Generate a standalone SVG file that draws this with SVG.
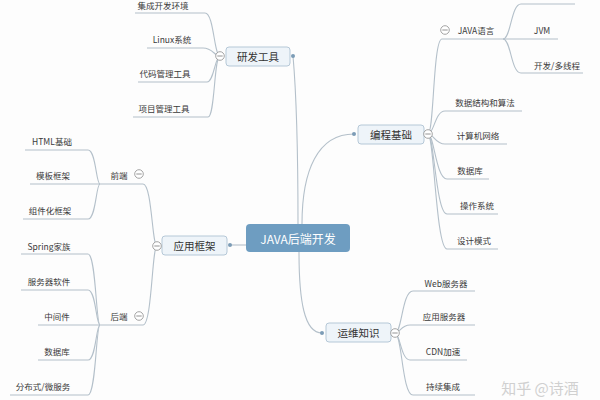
<svg xmlns="http://www.w3.org/2000/svg" width="600" height="400" viewBox="0 0 600 400">
<defs>
<style>
.bg{fill:#fdfdfd}
.ln{fill:none;stroke:#b4c0ca;stroke-width:1.1}
.t{font-family:"Noto Sans CJK SC","Liberation Sans",sans-serif;font-size:8.5px;fill:#3a3a3a;text-anchor:middle;dominant-baseline:central}
.t1{font-family:"Noto Sans CJK SC","Liberation Sans",sans-serif;font-size:10.5px;fill:#333;text-anchor:middle;dominant-baseline:central}
.box{fill:#eef4f9;stroke:#b5c8d7;stroke-width:1}
.dot{fill:#7c9cb6}
.col circle{fill:#fff;stroke:#9a9a9a;stroke-width:0.9}
.col line{stroke:#888;stroke-width:0.9}
</style>
</defs>
<rect class="bg" x="0" y="0" width="600" height="400"/>

<g id="connectors">
<path class="ln" d="M298 224 C298 150 296 90 293 56"/>
<path class="ln" d="M302 224 C302 170 318 134 354 134"/>
<path class="ln" d="M246 245 H230"/>
<path class="ln" d="M299 252 C299 300 304 333 322 333"/>
<path class="ln" d="M135 13 H205 C214 13 214 56 220 56"/>
<path class="ln" d="M147 48 H203 C213 48 214 56 220 56"/>
<path class="ln" d="M138 82 H207 C214 82 215 56 220 56"/>
<path class="ln" d="M133 117 H208 C215 117 214 56 220 56"/>
<path class="ln" d="M503 39 H442 C433 39 434 134 428 134"/>
<path class="ln" d="M522 111 H445 C435 111 434 134 428 134"/>
<path class="ln" d="M507 144 H445 C435 144 434 134 428 134"/>
<path class="ln" d="M489 179 H447 C436 179 434 134 428 134"/>
<path class="ln" d="M498 214 H447 C436 214 434 134 428 134"/>
<path class="ln" d="M498 249 H447 C436 249 434 134 428 134"/>
<path class="ln" d="M575 4 H521 C511 4 511 39 503 39"/>
<path class="ln" d="M558 39 H503"/>
<path class="ln" d="M583 73 H521 C511 73 511 39 503 39"/>
<path class="ln" d="M100 184 H143 C152 184 152 246 157 246"/>
<path class="ln" d="M100 325 H143 C152 325 152 246 157 246"/>
<path class="ln" d="M25 150 H88 C96 150 96 184 100 184"/>
<path class="ln" d="M30 184 H100"/>
<path class="ln" d="M23 219 H88 C96 219 96 184 100 184"/>
<path class="ln" d="M21 254 H88 C96 254 96 325 100 325"/>
<path class="ln" d="M21 290 H88 C96 290 96 325 100 325"/>
<path class="ln" d="M38 325 H100"/>
<path class="ln" d="M38 360 H88 C96 360 96 325 100 325"/>
<path class="ln" d="M10 395 H88 C96 395 96 325 100 325"/>
<path class="ln" d="M475 291 H413 C402 291 402 333 395 333"/>
<path class="ln" d="M475 325 H410 C401 325 400 333 395 333"/>
<path class="ln" d="M467 360 H410 C401 360 400 333 395 333"/>
<path class="ln" d="M475 395 H413 C402 395 402 333 395 333"/>
</g>

<g id="root">
<rect x="246" y="224" width="104" height="28" rx="4" fill="#6e9dc1"/>
<text x="298" y="238" class="t1" style="fill:#fff;font-size:12px">JAVA后端开发</text>
</g>

<g id="n-yanfa">
<rect class="box" x="226" y="47" width="64" height="19" rx="3"/>
<text class="t1" x="258" y="56.5">研发工具</text>
<circle class="dot" cx="293" cy="56" r="2"/>
<g class="col"><circle cx="220" cy="56" r="4.3"/><line x1="217.3" y1="56" x2="222.7" y2="56"/></g>
</g>
<g id="n-biancheng">
<rect class="box" x="358" y="125" width="66" height="19" rx="3"/>
<text class="t1" x="391" y="134.5">编程基础</text>
<circle class="dot" cx="354" cy="134" r="2"/>
<g class="col"><circle cx="428" cy="134" r="4.3"/><line x1="425.3" y1="134" x2="430.7" y2="134"/></g>
</g>
<g id="n-yingyong">
<rect class="box" x="162" y="236" width="65" height="19" rx="3"/>
<text class="t1" x="194.5" y="245.5">应用框架</text>
<circle class="dot" cx="230" cy="245" r="2"/>
<g class="col"><circle cx="157" cy="246" r="4.3"/><line x1="154.3" y1="246" x2="159.7" y2="246"/></g>
</g>
<g id="n-yunwei">
<rect class="box" x="326" y="323" width="65" height="19" rx="3"/>
<text class="t1" x="358.5" y="332.5">运维知识</text>
<circle class="dot" cx="322" cy="333" r="2"/>
<g class="col"><circle cx="395" cy="333" r="4.3"/><line x1="392.3" y1="333" x2="397.7" y2="333"/></g>
</g>

<g id="n-jicheng"><text class="t" x="163" y="5">集成开发环境</text></g>
<g id="n-linux"><text class="t" x="172" y="39">Linux系统</text></g>
<g id="n-daima"><text class="t" x="165" y="73">代码管理工具</text></g>
<g id="n-xiangmu"><text class="t" x="164" y="108">项目管理工具</text></g>

<g id="n-java"><text class="t" x="476" y="30">JAVA语言</text>
<g class="col"><circle cx="445" cy="30" r="4.3"/><line x1="442.3" y1="30" x2="447.7" y2="30"/></g></g>
<g id="n-jvm"><text class="t" x="542" y="30">JVM</text></g>
<g id="n-bingfa"><text class="t" x="557" y="65">开发/多线程</text></g>
<g id="n-shuju"><text class="t" x="485" y="102">数据结构和算法</text></g>
<g id="n-wangluo"><text class="t" x="478" y="135">计算机网络</text></g>
<g id="n-shujuku1"><text class="t" x="470" y="170">数据库</text></g>
<g id="n-caozuo"><text class="t" x="477" y="205">操作系统</text></g>
<g id="n-sheji"><text class="t" x="474" y="240">设计模式</text></g>

<g id="n-qianduan"><text class="t" x="119" y="175">前端</text>
<g class="col"><circle cx="139" cy="174" r="4.3"/><line x1="136.3" y1="174" x2="141.7" y2="174"/></g></g>
<g id="n-html"><text class="t" x="52" y="141">HTML基础</text></g>
<g id="n-muban"><text class="t" x="53" y="175">模板框架</text></g>
<g id="n-zujian"><text class="t" x="50" y="210">组件化框架</text></g>

<g id="n-houduan"><text class="t" x="119" y="316">后端</text>
<g class="col"><circle cx="139" cy="316" r="4.3"/><line x1="136.3" y1="316" x2="141.7" y2="316"/></g></g>
<g id="n-spring"><text class="t" x="49" y="246">Spring家族</text></g>
<g id="n-fuwuqi"><text class="t" x="49" y="281">服务器软件</text></g>
<g id="n-zhongjian"><text class="t" x="57" y="316">中间件</text></g>
<g id="n-shujuku2"><text class="t" x="57" y="351">数据库</text></g>
<g id="n-fenbu"><text class="t" x="43" y="386">分布式/微服务</text></g>

<g id="n-web"><text class="t" x="446" y="283">Web服务器</text></g>
<g id="n-yingyongfw"><text class="t" x="444" y="316">应用服务器</text></g>
<g id="n-cdn"><text class="t" x="443" y="351">CDN加速</text></g>
<g id="n-chixu"><text class="t" x="443" y="386">持续集成</text></g>

<text x="540" y="387" style="font-family:'Noto Sans CJK SC','Liberation Sans',sans-serif;font-size:15px;fill:#d0d0d0;text-anchor:middle;dominant-baseline:central">知乎 @诗酒</text>
</svg>
